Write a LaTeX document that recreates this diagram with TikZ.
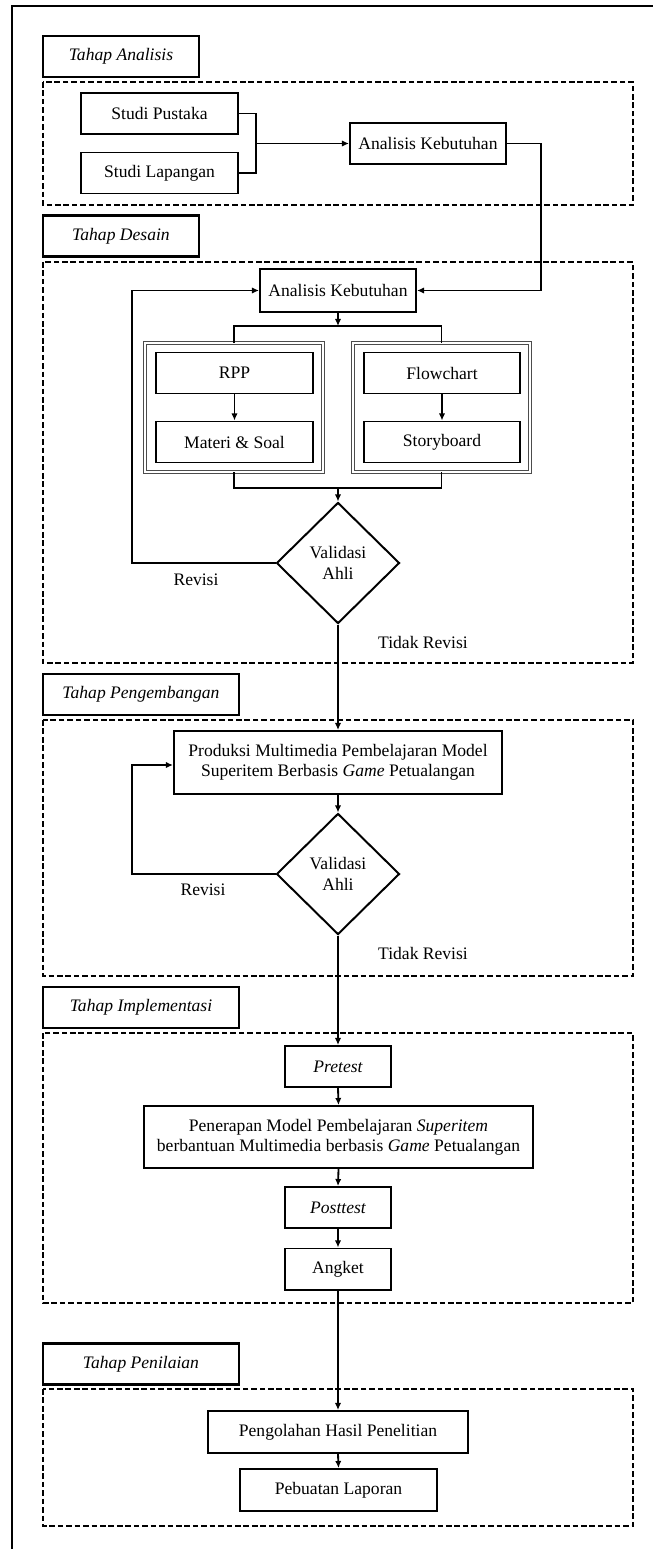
\documentclass[tikz,border=0pt]{standalone}
\usepackage{fontspec}
\setmainfont{Liberation Serif}
\usetikzlibrary{arrows.meta,shapes.geometric}
\newcommand{\mainsize}{\fontsize{12.5}{14.5}\selectfont}
\tikzset{
  box/.style={draw,line width=1.4pt,inner sep=2pt,align=center,minimum height=1.025cm},
  lab/.style={draw,line width=1.5pt,font=\mainsize\itshape,minimum height=1.025cm},
  phase/.style={draw,line width=1.4pt,dash pattern=on 4pt off 2pt},
  grp/.style={draw=black!70,double=white,double distance=1.3pt,line width=0.9pt},
  dec/.style={draw,diamond,line width=1.4pt,inner sep=0pt,align=center,minimum width=3.075cm,minimum height=3.025cm},
  arr/.style={-{Latex[length=5pt,width=4.5pt]},line width=1.3pt},
  lnk/.style={line width=1.3pt}
}
\begin{document}
\begin{tikzpicture}[x=0.025cm,y=-0.025cm,font=\mainsize]
\useasboundingbox (0,0) rectangle (652,1549);
\draw[line width=1.8pt] (12,1560) -- (12,6) -- (660,6);
% Tahap Analisis
\node[lab,minimum width=3.9cm] (labA) at (121,56.5) {Tahap Analisis};
\draw[phase] (43,82) rectangle (633,205);
\node[box,minimum width=3.925cm] (pustaka) at (159.5,113.5) {Studi Pustaka};
\node[box,minimum width=3.925cm] (lapangan) at (159.5,173) {Studi Lapangan};
\node[box,minimum width=3.9cm] (kebA) at (428,143.5) {Analisis Kebutuhan};
\coordinate (jnA) at (256,143.5);
\draw[lnk] (pustaka.east) -| (jnA) |- (lapangan.east);
\draw[arr] (jnA) -- (kebA.west);
% Tahap Desain
\node[lab,minimum width=3.9cm] (labD) at (121,236) {Tahap Desain};
\draw[phase] (43,262) rectangle (633,663);
\node[box,minimum width=3.9cm,minimum height=1.075cm] (kebD) at (338,290.5) {Analisis Kebutuhan};
\draw[grp] (145,343) rectangle (323,472);
\draw[grp] (353,343) rectangle (530,472);
\coordinate (grpL) at (234,343);
\coordinate (grpR) at (441.5,343);
\coordinate (grpLs) at (234,472);
\coordinate (grpRs) at (441.5,472);
\node[box,minimum width=3.925cm] (rpp) at (234.5,373) {RPP};
\node[box,minimum width=3.925cm] (materi) at (234.5,442) {Materi \& Soal};
\node[box,minimum width=3.9cm] (flow) at (442,373) {Flowchart};
\node[box,minimum width=3.9cm] (story) at (442,442) {Storyboard};
\node[dec] (valD) at (338,563) {Validasi\\Ahli};
\coordinate (cA) at (541,290.5);
\draw[arr] (kebA.east) -| (cA) -- (kebD.east);
\coordinate (spD) at (338,326);
\draw[arr] (kebD.south) -- (spD);
\draw[lnk] (grpL) |- (spD) -| (grpR);
\draw[arr] (rpp.south) -- (materi.north);
\draw[arr] (flow.south) -- (story.north);
\coordinate (mgD) at (338,488);
\draw[lnk] (grpLs) |- (mgD) -| (grpRs);
\draw[arr] (mgD) -- (valD.north);
\coordinate (fbD) at (132,290.5);
\draw[arr] (valD.west) -| (fbD) -- (kebD.west);
\node (revD) at (196,580) {Revisi};
\node (tidakD) at (423,642) {Tidak Revisi};
% Tahap Pengembangan
\node[lab,minimum width=4.9cm] (labP) at (141,694.5) {Tahap Pengembangan};
\draw[phase] (43,720) rectangle (633,976);
\node[box,minimum width=8.2cm,minimum height=1.575cm] (prod) at (338,762.5)
  {Produksi Multimedia Pembelajaran Model\\Superitem Berbasis \textit{Game} Petualangan};
\node[dec] (valP) at (338,874) {Validasi\\Ahli};
\draw[arr] (valD.south) -- (prod.north);
\draw[arr] (prod.south) -- (valP.north);
\coordinate (fbP) at (132,765);
\draw[arr] (valP.west) -| (fbP) -- (prod.west |- fbP);
\node (revP) at (203,890) {Revisi};
\node (tidakP) at (423,953) {Tidak Revisi};
% Tahap Implementasi
\node[lab,minimum width=4.9cm] (labI) at (141,1007.5) {Tahap Implementasi};
\draw[phase] (43,1033) rectangle (633,1303);
\node[box,minimum width=2.65cm,font=\mainsize\itshape] (pre) at (338,1066.5) {Pretest};
\node[box,minimum width=9.725cm,minimum height=1.55cm] (terap) at (338.5,1137)
  {Penerapan Model Pembelajaran \textit{Superitem}\\berbantuan Multimedia berbasis \textit{Game} Petualangan};
\node[box,minimum width=2.65cm,font=\mainsize\itshape] (post) at (338,1207.5) {Posttest};
\node[box,minimum width=2.65cm] (angket) at (338,1269) {Angket};
\draw[arr] (valP.south) -- (pre.north);
\draw[arr] (pre.south) -- (terap.north);
\draw[arr] (terap.south) -- (post.north);
\draw[arr] (post.south) -- (angket.north);
% Tahap Penilaian
\node[lab,minimum width=4.9cm] (labN) at (141,1364) {Tahap Penilaian};
\draw[phase] (43,1389) rectangle (633,1526);
\node[box,minimum width=6.5cm,minimum height=1.05cm] (olah) at (338,1432) {Pengolahan Hasil Penelitian};
\node[box,minimum width=4.925cm,minimum height=1.05cm] (lapor) at (338.5,1490) {Pebuatan Laporan};
\draw[arr] (angket.south) -- (olah.north);
\draw[arr] (olah.south) -- (lapor.north);
\end{tikzpicture}
\end{document}
